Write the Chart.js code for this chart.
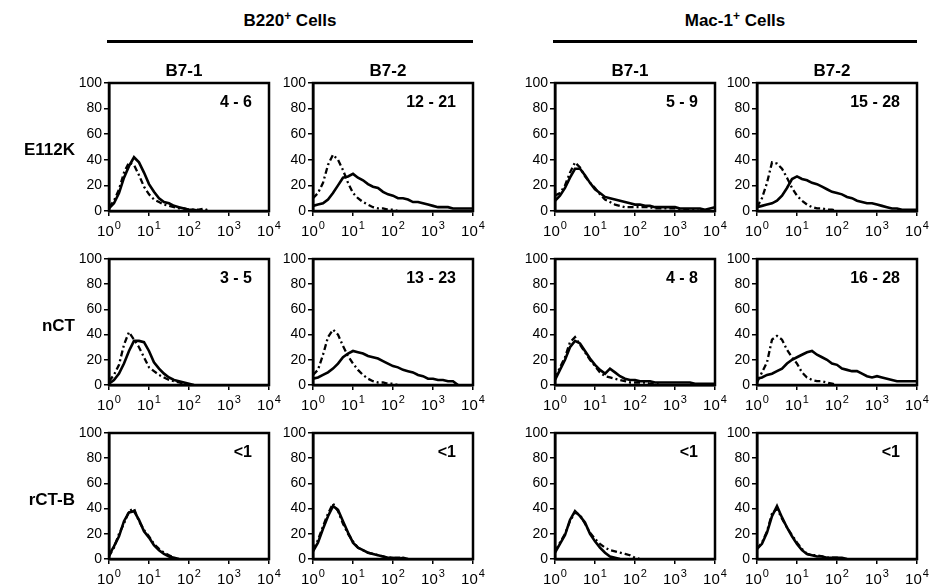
<!DOCTYPE html>
<html>
<head>
<meta charset="utf-8">
<script src="https://cdn.jsdelivr.net/npm/chart.js@4/dist/chart.umd.min.js"></script>
<style>
  body { margin: 0; background: #fff; }
  #page { position: relative; width: 933px; height: 585px; overflow: hidden; font-family: "Liberation Sans", Arial, sans-serif; color: #000; }
  canvas { position: absolute; }
  .lbl { position: absolute; font-weight: bold; white-space: nowrap; transform: translate(-50%, -50%); }
  .row { font-size: 17px; transform: translate(-100%, -50%); }
  .col { font-size: 17px; }
  .head { font-size: 17px; }
  .note { font-size: 16px; transform: translate(-100%, -50%); }
  .rule { position: absolute; height: 3px; background: #000; }
  sup { font-size: 12px; vertical-align: 6px; line-height: 0; }
</style>
</head>
<body>
<div id="page"></div>
<script>
// fluorescence bins (1/8 decade steps) shared by all histograms
const xBins = [1, 1.33, 1.78, 2.37, 3.16, 4.22, 5.62, 7.5, 10, 13.3, 17.8, 23.7, 31.6, 42.2, 56.2, 75,
               100, 133, 178, 237, 316, 422, 562, 750, 1000, 1334, 1778, 2371, 3162, 4217, 5623, 7499, 10000];
const xTicks = [1, 10, 100, 1000, 10000];
const yTicks = [0, 20, 40, 60, 80, 100];

const rowNames = ['E112K', 'nCT', 'rCT-B'];
const colNames = ['B7-1', 'B7-2', 'B7-1', 'B7-2'];
const groupNames = ['B220', 'Mac-1'];
const panelNotes = ['4 - 6', '12 - 21', '5 - 9', '15 - 28',
                    '3 - 5', '13 - 23', '4 - 8', '16 - 28',
                    '<1', '<1', '<1', '<1'];

// E112K row
const e112kB220B71Solid  = [2, 6, 14, 26, 35, 42, 38, 30, 21, 15, 10, 7, 6, 4, 3, 2, 1, 1, 0];
const e112kB220B71Dashed = [3, 8, 17, 30, 38, 36, 28, 19, 13, 9, 7, 5, 4, 3, 2, 2, 1, 1, 1, 2, 0];
const e112kB220B72Solid  = [4, 5, 6, 9, 14, 20, 26, 27, 29, 26, 24, 21, 19, 18, 15, 13, 12, 10, 10, 9, 7, 7, 6, 5, 4, 3, 3, 3, 2, 2, 2, 2, 2];
const e112kB220B72Dashed = [10, 14, 22, 36, 44, 40, 32, 22, 14, 10, 7, 5, 3, 2, 2, 1, 1, 0];
const e112kMacB71Solid   = [8, 12, 18, 26, 33, 33, 28, 22, 17, 14, 11, 10, 9, 8, 7, 6, 5, 5, 4, 4, 3, 3, 3, 3, 3, 2, 2, 2, 2, 2, 1, 2, 3];
const e112kMacB71Dashed  = [12, 14, 20, 30, 38, 34, 27, 22, 18, 13, 9, 7, 5, 4, 3, 3, 3, 3, 3, 3, 2, 2, 2, 2, 2, 1, 1, 1, 1, 0];
const e112kMacB72Solid   = [3, 4, 5, 6, 8, 12, 18, 25, 27, 25, 24, 22, 21, 19, 17, 15, 14, 13, 11, 10, 8, 7, 6, 6, 5, 4, 3, 2, 2, 1, 1, 1, 1];
const e112kMacB72Dashed  = [3, 10, 22, 38, 37, 33, 26, 18, 12, 8, 5, 3, 2, 2, 1, 1, 0];

// nCT row
const nctB220B71Solid  = [1, 4, 9, 17, 27, 35, 35, 34, 27, 18, 13, 9, 6, 4, 3, 2, 1, 0];
const nctB220B71Dashed = [3, 8, 16, 32, 42, 36, 30, 22, 14, 11, 8, 6, 4, 3, 2, 1, 0];
const nctB220B72Solid  = [5, 6, 8, 10, 13, 17, 22, 25, 27, 26, 25, 23, 22, 21, 19, 17, 15, 14, 12, 11, 10, 8, 7, 5, 5, 4, 4, 3, 3, 0];
const nctB220B72Dashed = [8, 12, 24, 38, 44, 40, 31, 23, 17, 12, 8, 5, 3, 2, 2, 1, 1, 0];
const nctMacB71Solid   = [4, 12, 20, 30, 35, 33, 27, 21, 16, 12, 9, 13, 10, 7, 5, 4, 4, 3, 3, 3, 2, 2, 2, 2, 2, 2, 2, 2, 1, 1, 1, 1, 1];
const nctMacB71Dashed  = [5, 14, 22, 34, 38, 32, 26, 20, 15, 10, 7, 6, 5, 4, 3, 2, 2, 2, 2, 1, 1, 0];
const nctMacB72Solid   = [5, 6, 8, 9, 11, 13, 17, 20, 22, 24, 26, 27, 24, 22, 20, 17, 16, 13, 12, 11, 11, 9, 7, 6, 7, 6, 5, 4, 3, 3, 3, 3, 3];
const nctMacB72Dashed  = [2, 10, 18, 36, 39, 36, 28, 22, 17, 10, 6, 4, 3, 3, 2, 1, 0];

// rCT-B row
const rctbB220B71Solid  = [3, 10, 18, 30, 37, 38, 31, 22, 17, 11, 7, 4, 2, 1, 0];
const rctbB220B71Dashed = [2, 9, 20, 28, 38, 40, 30, 23, 18, 12, 8, 5, 3, 1, 0];
const rctbB220B72Solid  = [6, 13, 24, 34, 42, 39, 30, 21, 13, 9, 7, 5, 4, 3, 2, 1, 1, 0, 1, 0];
const rctbB220B72Dashed = [7, 15, 26, 36, 44, 38, 28, 20, 14, 9, 7, 5, 4, 3, 2, 1, 1, 1, 1, 0];
const rctbMacB71Solid   = [5, 12, 19, 31, 38, 34, 29, 20, 14, 9, 5, 2, 1, 0];
const rctbMacB71Dashed  = [6, 13, 20, 30, 37, 35, 28, 21, 16, 12, 9, 7, 6, 5, 4, 3, 1, 0];
const rctbMacB72Solid   = [8, 12, 21, 34, 42, 33, 25, 18, 12, 7, 4, 3, 2, 2, 1, 1, 1, 1, 0];
const rctbMacB72Dashed  = [8, 13, 22, 36, 40, 32, 25, 19, 13, 8, 4, 3, 3, 2, 1, 1, 1, 0];

const panelSeries = [
  [e112kB220B71Solid, e112kB220B71Dashed], [e112kB220B72Solid, e112kB220B72Dashed],
  [e112kMacB71Solid, e112kMacB71Dashed],   [e112kMacB72Solid, e112kMacB72Dashed],
  [nctB220B71Solid, nctB220B71Dashed],     [nctB220B72Solid, nctB220B72Dashed],
  [nctMacB71Solid, nctMacB71Dashed],       [nctMacB72Solid, nctMacB72Dashed],
  [rctbB220B71Solid, rctbB220B71Dashed],   [rctbB220B72Solid, rctbB220B72Dashed],
  [rctbMacB71Solid, rctbMacB71Dashed],     [rctbMacB72Solid, rctbMacB72Dashed]
];

// layout of the plot boxes (px)
const colLeft = [109, 313, 555, 757];
const rowTop = [83, 259, 433];
const rowHeight = [128, 126, 126];
const plotW = 160;
const FONT = '"Liberation Sans", Arial, sans-serif';

const page = document.getElementById('page');

function addLabel(html, cls, x, y) {
  const d = document.createElement('div');
  d.className = 'lbl ' + cls;
  d.innerHTML = html;
  d.style.left = x + 'px';
  d.style.top = y + 'px';
  page.appendChild(d);
}

function toPoints(values) {
  return values.map((v, i) => ({ x: xBins[i], y: v }));
}

// box around plot area
const boxPlugin = {
  id: 'box',
  afterDraw(chart) {
    const a = chart.chartArea, ctx = chart.ctx;
    ctx.save();
    ctx.strokeStyle = '#000';
    ctx.lineWidth = 2.5;
    ctx.strokeRect(a.left, a.top, a.right - a.left, a.bottom - a.top);
    ctx.restore();
  }
};

// 10^n tick labels with a real superscript
const supTicks = {
  id: 'supTicks',
  afterDraw(chart) {
    const ctx = chart.ctx, xs = chart.scales.x;
    ctx.save();
    ctx.fillStyle = '#000';
    ctx.textBaseline = 'alphabetic';
    xTicks.forEach(v => {
      const px = xs.getPixelForValue(v);
      const exp = String(Math.round(Math.log10(v)));
      ctx.font = '15px ' + FONT;
      const w1 = ctx.measureText('10').width;
      ctx.font = '11px ' + FONT;
      const w2 = ctx.measureText(exp).width;
      const x0 = px - (w1 + w2 + 1) / 2;
      const y0 = xs.top + 25;
      ctx.font = '15px ' + FONT;
      ctx.fillText('10', x0, y0);
      ctx.font = '11px ' + FONT;
      ctx.fillText(exp, x0 + w1 + 1, y0 - 7);
    });
    ctx.restore();
  }
};

function createPanel(i) {
  const r = Math.floor(i / 4), c = i % 4;
  const padL = 45, padT = 12, padR = 16, padB = 30;
  const canvas = document.createElement('canvas');
  canvas.width = plotW + padL + padR;
  canvas.height = rowHeight[r] + padT + padB;
  canvas.style.left = (colLeft[c] - padL) + 'px';
  canvas.style.top = (rowTop[r] - padT) + 'px';
  page.appendChild(canvas);

  const [solid, dashed] = panelSeries[i];
  return new Chart(canvas.getContext('2d'), {
    type: 'line',
    data: {
      datasets: [
        { label: 'solid', data: toPoints(solid), borderColor: '#000', borderWidth: 2.6,
          pointRadius: 0, tension: 0, fill: false },
        { label: 'dashed', data: toPoints(dashed), borderColor: '#000', borderWidth: 2.3,
          borderDash: [6, 3, 2, 3], pointRadius: 0, tension: 0, fill: false }
      ]
    },
    options: {
      responsive: false,
      animation: false,
      layout: { padding: { left: 0, top: padT, right: padR, bottom: 0 } },
      plugins: { legend: { display: false }, tooltip: { enabled: false } },
      scales: {
        x: {
          type: 'logarithmic', min: 1, max: 10000,
          afterBuildTicks: s => { s.ticks = xTicks.map(v => ({ value: v })); },
          afterFit: s => { s.height = padB; },
          ticks: { display: false },
          grid: { drawOnChartArea: false, drawTicks: true, tickLength: 5, color: '#000', lineWidth: 1.5 },
          border: { display: true, color: '#000', width: 2.5 }
        },
        y: {
          min: 0, max: 100,
          afterBuildTicks: s => { s.ticks = yTicks.map(v => ({ value: v })); },
          afterFit: s => { s.width = padL; },
          ticks: { color: '#000', padding: 2, font: { family: FONT, size: 14 } },
          grid: { drawOnChartArea: false, drawTicks: true, tickLength: 5, color: '#000', lineWidth: 1.5 },
          border: { display: true, color: '#000', width: 2.5 }
        }
      }
    },
    plugins: [boxPlugin, supTicks]
  });
}

for (let i = 0; i < 12; i++) {
  createPanel(i);
  const r = Math.floor(i / 4), c = i % 4;
  const note = panelNotes[i].replace('<', '&lt;');
  addLabel(note, 'note', colLeft[c] + plotW - 17, rowTop[r] + 19);
}

// column titles
colNames.forEach((name, c) => addLabel(name, 'col', colLeft[c] + plotW / 2 - 5, 71));

// row labels
rowNames.forEach((name, r) => addLabel(name, 'row', 75, rowTop[r] + 67));

// group headers with rule underneath
groupNames.forEach((name, g) => {
  const left = colLeft[g * 2] - 2, right = colLeft[g * 2 + 1] + plotW;
  addLabel(name + '<sup>+</sup> Cells', 'head', (left + right) / 2, 21);
  const rule = document.createElement('div');
  rule.className = 'rule';
  rule.style.left = left + 'px';
  rule.style.width = (right - left) + 'px';
  rule.style.top = '40px';
  page.appendChild(rule);
});
</script>
</body>
</html>
